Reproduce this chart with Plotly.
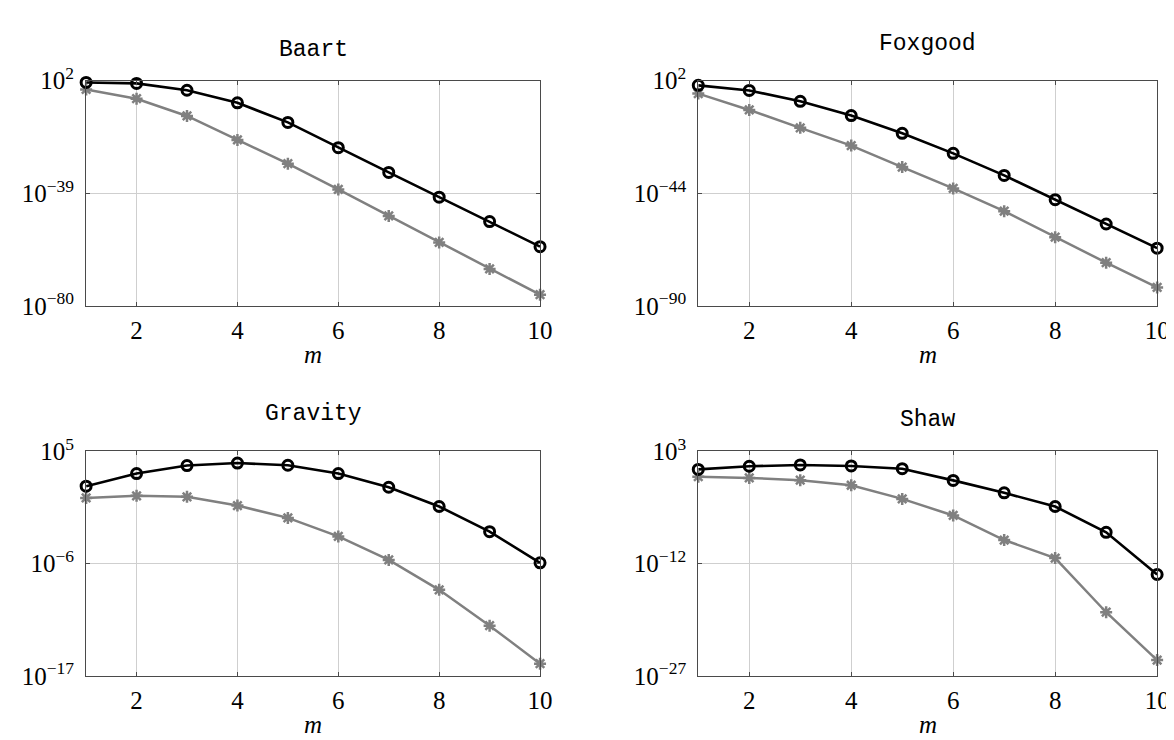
import plotly.graph_objects as go

m = [1, 2, 3, 4, 5, 6, 7, 8, 9, 10]

titles = ["Baart", "Foxgood", "Gravity", "Shaw"]

baart_a = [2e1, 9e0, 3e-2, 8e-7, 6e-14, 4e-23, 4e-32, 4e-41, 5e-50, 4e-59]
baart_b = [6e-2, 2.5e-5, 1.3e-11, 2.5e-20, 6e-29, 2.5e-38, 6e-48, 1.3e-57, 3e-67, 1.3e-76]

foxgood_a = [1.1e0, 9e-3, 3.4e-7, 5e-13, 3e-20, 2e-28, 2e-37, 2.5e-47, 3e-57, 4e-67]
foxgood_b = [4.6e-4, 1e-10, 5e-18, 3e-25, 5e-34, 1e-42, 5e-52, 1.3e-62, 5e-73, 4e-83]

gravity_a = [3.8e1, 6.6e2, 4e3, 7e3, 4.3e3, 6.6e2, 3e1, 3.9e-1, 1.35e-3, 1.2e-6]
gravity_b = [2.7e0, 4.4e0, 3.5e0, 4.8e-1, 3e-2, 4.6e-4, 2.3e-6, 2.7e-9, 8.3e-13, 1.6e-16]

shaw_a = [3.8e0, 1e1, 1.5e1, 1.1e1, 4.7e0, 1.3e-1, 2.8e-3, 4.2e-5, 1.5e-8, 3.5e-14]
shaw_b = [4.1e-1, 2.8e-1, 1.4e-1, 2.9e-2, 4.4e-4, 2.7e-6, 1.4e-9, 5.5e-12, 3.2e-19, 1.3e-25]

# y-axis tick exponents (bottom, middle, top) per panel
yexp = [[-80, -39, 2], [-90, -44, 2], [-17, -6, 5], [-27, -12, 3]]
xticks = [2, 4, 6, 8, 10]

series = [(baart_a, baart_b), (foxgood_a, foxgood_b), (gravity_a, gravity_b), (shaw_a, shaw_b)]

W, H = 1174, 740
# plot boxes in pixels (left, right, top, bottom)
boxes = [(79, 538, 57, 292.7), (698, 1162, 57, 292.7),
         (79, 538, 444.5, 679.3), (698, 1162, 444.5, 679.3)]
title_y = [25, 19, 406, 412]

SERIF = "Liberation Serif, Times New Roman, serif"
MONO = "Liberation Mono, Courier New, monospace"
AXC = "#4a4a4a"
GRIDC = "#cfcfcf"

fig = go.Figure()
annotations = []

for i, ((ya, yb), box, ex) in enumerate(zip(series, boxes, yexp)):
    k = "" if i == 0 else str(i + 1)
    xa, ya_name = "x" + k, "y" + k
    fig.add_trace(go.Scatter(
        x=m, y=yb, xaxis=xa, yaxis=ya_name, mode="lines+markers",
        line=dict(color="#808080", width=2.5),
        marker=dict(symbol="asterisk", size=10, color="#808080",
                    line=dict(color="#808080", width=2.5)),
        cliponaxis=False, showlegend=False))
    fig.add_trace(go.Scatter(
        x=m, y=ya, xaxis=xa, yaxis=ya_name, mode="lines+markers",
        line=dict(color="black", width=2.6),
        marker=dict(symbol="circle-open", size=10, color="black",
                    line=dict(color="black", width=3)),
        cliponaxis=False, showlegend=False))

    l, r, t, b = box
    xdom = [l / W, r / W]
    ydom = [1 - b / H, 1 - t / H]
    common = dict(showline=True, linecolor=AXC, linewidth=1.2, mirror="ticks",
                  ticks="inside", ticklen=4, tickcolor=AXC, tickwidth=1,
                  showgrid=True, gridcolor=GRIDC, gridwidth=1, zeroline=False,
                  tickfont=dict(family=SERIF, size=25, color="black"))
    fig.layout["xaxis" + k] = dict(domain=xdom, anchor=ya_name, range=[1, 10],
                                   tickvals=xticks, ticktext=[str(v) for v in xticks],
                                   ticklabelstandoff=2, **common)
    yticktext = [("10<sup>%d</sup>" % e).replace("-", "\u2212") for e in ex]
    fig.layout["yaxis" + k] = dict(domain=ydom, anchor=xa, type="log",
                                   range=[ex[0], ex[2]],
                                   tickvals=[10.0 ** e for e in ex], ticktext=yticktext,
                                   ticklabelstandoff=6, **common)

    cx = (l + r) / 2 / W
    annotations.append(dict(text=titles[i], x=cx, y=1 - title_y[i] / H,
                            xref="paper", yref="paper", xanchor="center", yanchor="middle",
                            showarrow=False, font=dict(family=MONO, size=23, color="black")))
    annotations.append(dict(text="<i>m</i>", x=cx, y=1 - (b + 51) / H,
                            xref="paper", yref="paper", xanchor="center", yanchor="middle",
                            showarrow=False, font=dict(family=SERIF, size=25, color="black")))

fig.update_layout(width=W, height=H, margin=dict(l=0, r=0, t=0, b=0),
                  paper_bgcolor="white", plot_bgcolor="white",
                  annotations=annotations)

fig.write_html("out.html")
